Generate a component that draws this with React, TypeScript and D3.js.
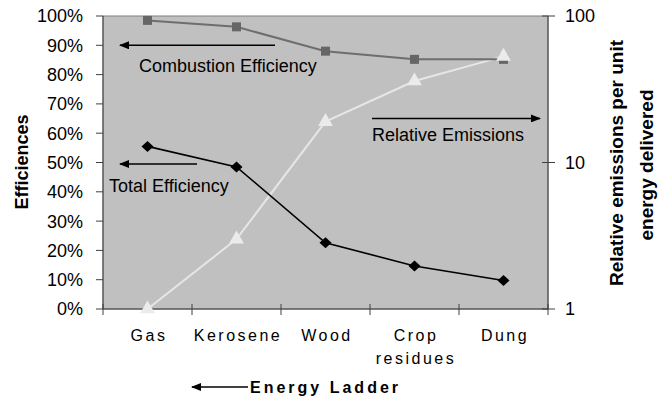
import * as d3 from "d3";

const fuels = ["Gas", "Kerosene", "Wood", "Crop residues", "Dung"];
const combustionEff = [0.985, 0.963, 0.88, 0.852, 0.852];
const totalEff = [0.555, 0.485, 0.226, 0.147, 0.097];
const relEmissions = [1, 3, 19, 36, 53];
const pctTicks = [0, 0.1, 0.2, 0.3, 0.4, 0.5, 0.6, 0.7, 0.8, 0.9, 1];
const logTicks = [1, 10, 100];

const W = 664;
const H = 404;
const plot = { left: 103, right: 548, top: 16, bottom: 309 };
const FONT = "'Liberation Sans', Arial, sans-serif";

export default function App() {
  const x = d3.scaleBand<string>().domain(fuels).range([plot.left, plot.right]);
  const y = d3.scaleLinear().domain([0, 1]).range([plot.bottom, plot.top]);
  const yLog = d3.scaleLog().domain([1, 100]).range([plot.bottom, plot.top]);
  const cx = (i: number) => (x(fuels[i]) ?? 0) + x.bandwidth() / 2;

  const line = d3.line<[number, number]>().x((d) => d[0]).y((d) => d[1]);
  const combPts = combustionEff.map((v, i) => [cx(i), y(v)] as [number, number]);
  const totPts = totalEff.map((v, i) => [cx(i), y(v)] as [number, number]);
  const emPts = relEmissions.map((v, i) => [cx(i), yLog(v)] as [number, number]);

  const square = d3.symbol(d3.symbolSquare, 81)()!;
  const diamond = "M-6,0L0,-5.5L6,0L0,5.5Z";
  const triangle = d3.symbol(d3.symbolTriangle, 95)()!;

  const boundaries = [...fuels.map((f) => x(f) ?? 0), plot.right];

  return (
    <svg
      width={W}
      height={H}
      style={{ position: "absolute", left: 0, top: 0, background: "#fff" }}
      fontFamily={FONT}
    >
      <defs>
        <marker id="head" viewBox="0 0 10 8" refX="9" refY="4" markerWidth="10" markerHeight="8" markerUnits="userSpaceOnUse" orient="auto">
          <path d="M0,0 L10,4 L0,8 Z" fill="#000" />
        </marker>
      </defs>

      {/* plot area */}
      <rect
        x={plot.left}
        y={plot.top}
        width={plot.right - plot.left}
        height={plot.bottom - plot.top}
        fill="#c0c0c0"
        stroke="#808080"
        strokeWidth={1}
      />
      <line x1={plot.left} x2={plot.left} y1={plot.top} y2={plot.bottom} stroke="#404040" />
      <line x1={plot.right} x2={plot.right} y1={plot.top} y2={plot.bottom} stroke="#404040" />
      <line x1={plot.left} x2={plot.right} y1={plot.bottom} y2={plot.bottom} stroke="#404040" />

      {/* left axis */}
      {pctTicks.map((t) => (
        <g key={t}>
          <line x1={plot.left - 7} x2={plot.left} y1={y(t)} y2={y(t)} stroke="#404040" />
          <text x={plot.left - 20} y={y(t)} dy="0.36em" textAnchor="end" fontSize={18} fill="#000">
            {d3.format(".0%")(t)}
          </text>
        </g>
      ))}

      {/* right axis */}
      {logTicks.map((t) => (
        <g key={t}>
          <line x1={plot.right - 6} x2={plot.right + 7} y1={yLog(t)} y2={yLog(t)} stroke="#404040" />
          <text x={plot.right + 17} y={yLog(t)} dy="0.36em" fontSize={18} fill="#000">
            {t}
          </text>
        </g>
      ))}

      {/* x axis */}
      {boundaries.map((b, i) => (
        <line key={i} x1={b} x2={b} y1={plot.bottom - 5} y2={plot.bottom + 6} stroke="#404040" />
      ))}
      {fuels.map((f, i) => {
        const parts = f === "Crop residues" ? ["Crop", "residues"] : [f];
        return (
          <text key={f} x={cx(i) + 1.5} y={341} textAnchor="middle" fontSize={16} letterSpacing={2.5} fill="#000">
            {parts.map((p, j) => (
              <tspan key={p} x={cx(i) + 1.5} dy={j === 0 ? 0 : 23}>
                {p}
              </tspan>
            ))}
          </text>
        );
      })}

      {/* series */}
      <path d={line(emPts) ?? ""} fill="none" stroke="#e6e6e6" strokeWidth={2} />
      <path d={line(combPts) ?? ""} fill="none" stroke="#6e6e6e" strokeWidth={2} />
      <path d={line(totPts) ?? ""} fill="none" stroke="#000" strokeWidth={1.6} />
      {combPts.map((p, i) => (
        <path key={i} d={square} transform={`translate(${p[0]},${p[1]})`} fill="#666" />
      ))}
      {emPts.map((p, i) => (
        <path key={i} d={triangle} transform={`translate(${p[0]},${p[1]})`} fill="#ebebeb" />
      ))}
      {totPts.map((p, i) => (
        <path key={i} d={diamond} transform={`translate(${p[0]},${p[1]})`} fill="#000" />
      ))}

      {/* annotations */}
      <line x1={275} x2={120} y1={y(0.9)} y2={y(0.9)} stroke="#000" strokeWidth={1.5} markerEnd="url(#head)" />
      <text x={139} y={72} fontSize={18} fill="#000">Combustion Efficiency</text>
      <line x1={197} x2={120} y1={y(0.495)} y2={y(0.495)} stroke="#000" strokeWidth={1.5} markerEnd="url(#head)" />
      <text x={109} y={192} fontSize={18} fill="#000">Total Efficiency</text>
      <line x1={372} x2={540} y1={yLog(20)} y2={yLog(20)} stroke="#000" strokeWidth={1.5} markerEnd="url(#head)" />
      <text x={372} y={141} fontSize={18} fill="#000">Relative Emissions</text>

      {/* axis titles */}
      <text transform="translate(28,162) rotate(-90)" textAnchor="middle" fontSize={18} fontWeight="bold" fill="#000">
        Efficiences
      </text>
      <text transform="translate(623,163) rotate(-90)" textAnchor="middle" fontSize={19} fontWeight="bold" fill="#000">
        Relative emissions per unit
      </text>
      <text transform="translate(653,165) rotate(-90)" textAnchor="middle" fontSize={19} fontWeight="bold" fill="#000">
        energy delivered
      </text>

      <line x1={248} x2={192} y1={387} y2={387} stroke="#000" strokeWidth={1.5} markerEnd="url(#head)" />
      <text x={250} y={393} fontSize={16} fontWeight="bold" letterSpacing={3} fill="#000">
        Energy Ladder
      </text>
    </svg>
  );
}
